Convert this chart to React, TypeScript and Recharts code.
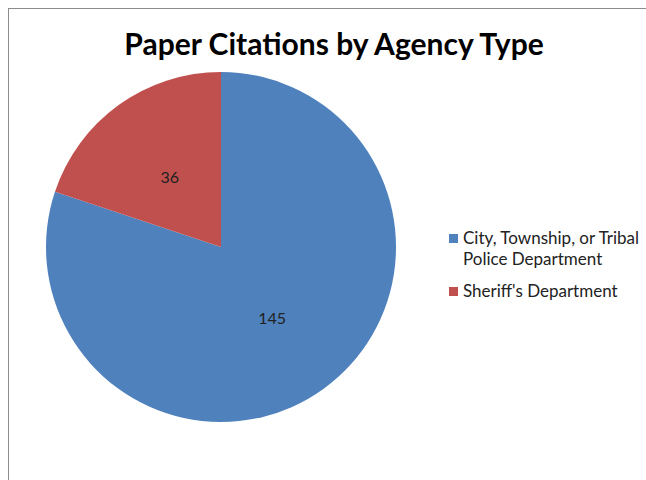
import { PieChart, Pie, Cell, Legend } from 'recharts';

const agencies = ['City, Township, or Tribal Police Department', "Sheriff's Department"];
const legendLines = [['City, Township, or Tribal', 'Police Department'], ["Sheriff's Department"]];
const citations = [145, 36];
const colors = ['#4F81BD', '#C0504D'];

const data = agencies.map((name, i) => ({ name, value: citations[i] }));

const RAD = Math.PI / 180;
const FONT = 'Lato, sans-serif';

function renderLabel(props: any) {
  const { cx, cy, midAngle, outerRadius, value } = props;
  const r = outerRadius * 0.5;
  const x = cx + r * Math.cos(-midAngle * RAD);
  const y = cy + r * Math.sin(-midAngle * RAD);
  return (
    <text
      x={x}
      y={y}
      fill="#222"
      fontSize={16}
      fontFamily={FONT}
      textAnchor="middle"
      dominantBaseline="central"
    >
      {value}
    </text>
  );
}

function LegendBox() {
  return (
    <div style={{ fontFamily: FONT, fontSize: 17, color: '#222' }}>
      {legendLines.map((lines, i) => (
        <div key={i} style={{ display: 'flex', alignItems: 'flex-start', marginBottom: 11 }}>
          <span
            style={{
              width: 9,
              height: 9,
              background: colors[i],
              marginTop: 7,
              marginRight: 5,
              flexShrink: 0,
            }}
          />
          <div style={{ lineHeight: '21px', whiteSpace: 'nowrap' }}>
            {lines.map((l) => (
              <div key={l}>{l}</div>
            ))}
          </div>
        </div>
      ))}
    </div>
  );
}

export default function App() {
  return (
    <div
      style={{
        position: 'fixed',
        left: 8,
        top: 8,
        width: 637,
        height: 471,
        overflow: 'hidden',
        borderLeft: '1px solid #8c8c8c',
        borderTop: '1px solid #8c8c8c',
        background: '#fff',
      }}
    >
      <div
        style={{
          position: 'absolute',
          left: 0,
          top: 16,
          width: 650,
          textAlign: 'center',
          fontFamily: FONT,
          fontWeight: 'bold',
          fontSize: 30,
          color: '#000',
        }}
      >
        Paper Citations by Agency Type
      </div>
      <PieChart width={637} height={471} style={{ position: 'absolute', left: 0, top: 0 }}>
        <Pie
          data={data}
          dataKey="value"
          nameKey="name"
          cx={207}
          cy={233}
          outerRadius={175}
          startAngle={90}
          endAngle={-270}
          stroke="none"
          label={renderLabel}
          labelLine={false}
          isAnimationActive={false}
        >
          {data.map((d, i) => (
            <Cell key={d.name} fill={colors[i]} />
          ))}
        </Pie>
        <Legend
          content={() => <LegendBox />}
          wrapperStyle={{ position: 'absolute', left: 440, top: 218, width: 200 }}
        />
      </PieChart>
    </div>
  );
}
